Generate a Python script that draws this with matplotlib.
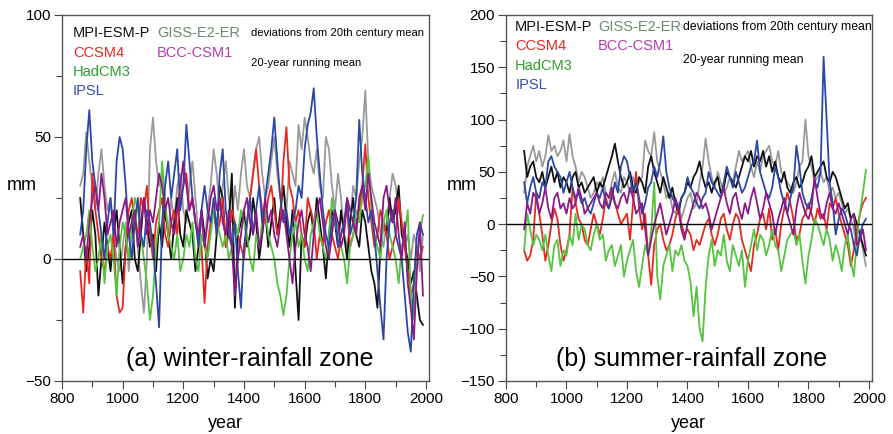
import numpy as np
import matplotlib
matplotlib.use("Agg")
import matplotlib.pyplot as plt
from matplotlib.ticker import MultipleLocator

plt.rcParams['font.family'] = ['Liberation Sans', 'DejaVu Sans']

years = list(range(860, 2000, 10))

# ---------- (a) winter-rainfall zone ----------
w_mpi = [25, 10, -5, 5,
         20, 10, -15, 0, 15, 5, -5, 10, 20, 5,
         -10, 5, 15, 20, 0, -5, 10, 25, 15, 5,
         10, -5, 15, 5, 20, 10, 0, 15, 25, 10,
         5, 20, 15, 10, -5, 5, 20, 10, -8, 0,
         -5, 10, 30, 25, 5, 15, 35, -20, 10, 15,
         20, 5, 10, 25, 15, 0, 10, 20, 5, 15,
         25, 10, 20, 30, 15, 5, 20, -5, -25, 10,
         5, 15, 20, 10, 25, 15, 5, -8, 10, 20,
         15, 5, 20, 10, 0, 15, 25, 10, 5, 20,
         15, 5, -5, -10, -20, 5, 15, 10, 25, 15,
         20, 30, 10, 5, 0, -10, -5, -15, -25, -27]
w_giss = [30, 35, 52, 40,
          30, 20, 35, 45, 30, 20, 25, 10, 0, -5,
          5, 15, -5, 10, 20, 5, -10, -22, 0, 45,
          58, 40, 30, 35, 20, 10, 25, 15, 30, 35,
          20, 15, 30, 40, 25, 10, 15, 5, 20, 30,
          45, 35, 20, 30, 40, 25, 15, 30, 20, 35,
          45, 30, 25, 35, 45, 50, 35, 25, 30, 40,
          50, 35, 25, 30, 20, 40, 35, 30, 55, 45,
          58, 50, 40, 35, 45, 30, 25, 50, 45, 30,
          20, 35, 25, 10, 5, 15, 30, 25, 40, 50,
          69, 40, 30, 25, 20, 10, 5, 15, 25, 35,
          30, 20, 15, 5, 10, 0, 10, 5, -5, 10]
w_ccsm = [-5, -22, 5, -10,
          35, 20, 10, 0, -5, 5, 0, 10, -15, -22,
          -20, 5, 20, 25, 15, 10, 25, 20, 30, 10,
          0, 15, 20, 25, 10, 5, 15, 20, 10, 25,
          30, 35, 20, 25, 15, 10, 5, -18, 5, 15,
          20, 10, 15, 25, 5, 10, 20, 15, 10, 5,
          0, 15, 25, 35, 45, 30, 20, 15, 25, 30,
          20, 10, 15, 40, 54, 30, 25, 15, 20, 10,
          5, 25, 20, 15, 0, 10, 5, 15, 20, 10,
          5, 0, 10, 15, 20, 5, 10, 15, 20, 30,
          47, 25, 15, 5, 10, 20, 15, 10, 0, 5,
          10, 25, 15, 5, -5, -15, -10, 5, 0, 5]
w_had = [0, 5, 10, 20,
         5, -5, 0, 10, -10, 5, 10, 0, -15, 5,
         15, 10, 0, 15, 25, 20, 10, 0, -10, -25,
         -15, 5, 15, 40, 25, 10, 5, 0, 10, -5,
         0, 10, 5, 15, 0, -5, 10, 5, 0, 10,
         20, 15, 10, 5, 10, 0, 5, 15, 10, 20,
         15, 10, 0, -5, 10, 5, 15, 20, 10, 5,
         0, -10, -15, -23, -15, 0, 10, 15, 5, 10,
         0, -5, 10, 15, 20, 10, 5, 0, 10, 25,
         15, 10, 5, 0, -10, 5, 10, 20, 15, 25,
         30, 42, 20, 10, 5, 0, 15, 20, 10, 5,
         0, -10, 5, 10, 20, -15, -25, 0, 10, 18]
w_ipsl = [10, 20, 45, 61,
          40, 30, 20, 10, 0, 15, 25, 10, 40, 50,
          45, 30, 10, 0, 15, 25, 10, 5, 20, 15,
          5, -10, -28, 15, 30, 40, 25, 35, 45, 20,
          30, 55, 40, 25, 15, 5, 20, 30, 20, 15,
          25, 10, 35, 45, 20, 10, 5, 15, -5, -20,
          5, 15, 25, 10, 20, 30, 15, 25, 35, 45,
          58, 40, 25, 15, 20, 10, 15, 20, 30, 25,
          45, 55, 60, 70, 50, 35, 20, 10, 5, 15,
          20, 5, 10, 15, 25, 10, 15, 25, 57, 35,
          25, 15, 20, 10, -5, -20, -33, 0, 15, 20,
          10, 5, 0, -15, -30, -38, -10, 10, 15, 10]
w_bcc = [5, 10, 0, 15,
         25, 30, 20, 35, 25, 10, 15, 20, 5, 15,
         20, 25, 10, 15, 20, 5, 15, 25, 10, 20,
         15, 25, 35, 30, 20, 25, 15, 10, 20, 30,
         40, 30, 20, 25, 15, 10, 20, 5, 15, 25,
         30, 20, 25, 15, 10, 20, 5, -15, 0, 10,
         20, 25, 15, 10, 20, 5, 10, 25, 15, 20,
         10, 5, 15, 20, 10, 0, -10, 5, 15, 20,
         10, 5, -5, 10, 20, 25, 15, 5, 0, 10,
         20, 15, 5, 10, 25, 20, 15, 10, 25, 30,
         20, 35, 25, 15, 10, 5, 25, 30, 20, 15,
         25, 10, 0, 15, -10, -20, -33, -5, 15, -15]

# ---------- (b) summer-rainfall zone ----------
s_mpi = [70, 45, 55, 60,
         45, 40, 50, 35, 45, 55, 40, 50, 35, 45,
         40, 30, 45, 50, 35, 40, 30, 35, 40, 45,
         30, 40, 35, 45, 55, 65, 77, 60, 45, 35,
         40, 50, 35, 30, 45, 40, 30, 55, 65, 50,
         40, 30, 45, 35, 25, 35, 20, 10, 25, 30,
         40, 35, 45, 50, 60, 45, 35, 40, 30, 40,
         45, 30, 35, 50, 45, 40, 35, 45, 55, 65,
         60, 70, 55, 65, 60, 70, 55, 65, 50, 60,
         45, 40, 50, 35, 30, 40, 45, 35, 40, 50,
         55, 65, 45, 50, 55, 60, 45, 40, 50, 45,
         35, 25, 15, 20, 5, 10, 0, -10, -20, -30]
s_giss = [30, 55, 65, 75,
          60, 70, 55, 65, 85, 70, 75, 65, 70, 80,
          60, 86, 65, 55, 40, 50, 45, 35, 25, 30,
          40, 35, 45, 30, 25, 40, 50, 35, 30, 45,
          40, 30, 45, 35, 40, 45, 80, 70, 65, 88,
          60, 50, 40, 25, 30, 15, 10, 20, 5, 15,
          25, 30, 15, 20, 40, 55, 82, 60, 45, 35,
          50, 40, 30, 35, 45, 40, 55, 70, 60, 65,
          70, 55, 45, 60, 50, 65, 70, 75, 60, 55,
          70, 50, 45, 40, 35, 30, 40, 55, 60, 100,
          65, 55, 40, 45, 50, 40, 45, 30, 35, 25,
          30, 20, 10, 15, 5, -5, -20, -10, -25, -40]
s_ccsm = [-25, -35, -30, -15,
          30, 10, -10, -35, -20, 0, 15, 5, -20, -35,
          -25, -10, 35, 20, 5, 0, -15, -20, -5, 10,
          0, -10, 5, 25, 15, 30, 20, 10, 0, 5,
          10, -15, 20, 50, 15, -5, 10, -30, -58, -20,
          -5, 0, -15, -25, -20, -10, 5, 15, 0, -10,
          -5, -10, -25, -15, -20, -10, 0, 5, -10, -20,
          -10, 5, 10, -5, -15, 0, 10, 5, -15, -25,
          -35, -45, -20, -10, 5, 10, -5, 15, -15, -5,
          -25, 0, 15, 30, 20, 5, -15, -10, 5, 10,
          20, 10, 0, 15, 5, 10, -5, 20, 15, 25,
          10, 0, -10, -20, -40, -25, -5, 10, 20, 25]
s_had = [-25, 10, -5, -20,
         -10, -15, -25, -10, -30, -45, -20, -15, -40, -25,
         -30, -10, -20, 10, -15, 0, -5, -20, -25, -10,
         0, -15, -10, -35, -25, -20, -40, -30, -20, -50,
         -35, -25, -15, -45, -60, -40, -20, -30, -5, 40,
         -50, -72, -40, -30, -20, -45, -25, -30, -20, -35,
         -40, -55, -88, -60, -100, -112, -60, -30, -15, -40,
         -25, -30, -10, -35, -45, -20, -30, -40, -25, -60,
         -35, -20, -5, -25, -10, -15, -30, -20, -5, -20,
         -25, -45, -30, -15, -10, -5, -20, -10, -35, -57,
         -30, -15, 5, 0, -10, -20, -5, -15, -35, -20,
         -30, -45, -20, -10, -35, -50, -15, 10, 30, 52]
s_ipsl = [40, 20, 35, 45,
          30, 25, 40, 35, 60, 65, 55, 50, 45, 30,
          40, 50, 35, 25, 30, 20, 25, 15, 10, 20,
          30, 25, 35, 20, 15, 25, 40, 30, 55, 65,
          60, 45, 30, 40, 25, 10, 20, 35, 40, 55,
          45, 60, 84, 50, 35, 25, 20, 15, 25, 30,
          45, 35, 30, 20, 15, 25, 30, 50, 40, 35,
          30, 25, 40, 55, 45, 35, 50, 40, 30, 35,
          45, 55, 60, 80, 50, 40, 30, 25, 35, 55,
          45, 30, 20, 10, 25, 35, 75, 55, 30, 20,
          15, 25, 40, 35, 50, 160, 100, 40, 20, -10,
          5, 15, 10, 0, -5, -20, -30, -10, 0, 5]
s_bcc = [-5, 20, 10, 30,
         25, 10, 20, 35, 15, 5, 25, 30, 15, 20,
         10, 25, 15, 20, 35, 25, 10, 15, 20, 25,
         30, 20, 15, 30, 25, 35, 20, 15, 25, 30,
         20, 35, 25, 10, 15, 20, -5, -30, -15, 0,
         10, 20, 5, -10, 0, 10, 25, 15, -5, -15,
         0, 10, 20, 30, 25, 15, 20, 10, -5, 5,
         15, 25, 35, 20, 10, 25, 30, 15, 5, 20,
         10, 25, 35, 20, 5, 15, 30, 20, 10, -10,
         5, 15, 25, 10, 0, -10, 15, 30, 20, 10,
         5, 15, 45, 25, 10, 5, 20, 30, 15, 10,
         20, 10, 0, -10, 5, 10, -20, -15, -5, -25]

models = ["MPI-ESM-P", "CCSM4", "HadCM3", "IPSL", "GISS-E2-ER", "BCC-CSM1"]
line_colors = {"MPI-ESM-P": "#111111", "CCSM4": "#e8281e", "HadCM3": "#55c43f",
               "IPSL": "#2b47a8", "GISS-E2-ER": "#9a9a9a", "BCC-CSM1": "#8a1a8a"}
label_colors = {"MPI-ESM-P": "#111111", "CCSM4": "#e8281e", "HadCM3": "#2ea02c",
                "IPSL": "#3050b0", "GISS-E2-ER": "#6a8a70", "BCC-CSM1": "#b43cae"}
draw_order = ["GISS-E2-ER", "MPI-ESM-P", "CCSM4", "HadCM3", "IPSL", "BCC-CSM1"]

winter = {"MPI-ESM-P": w_mpi, "CCSM4": w_ccsm, "HadCM3": w_had, "IPSL": w_ipsl,
          "GISS-E2-ER": w_giss, "BCC-CSM1": w_bcc}
summer = {"MPI-ESM-P": s_mpi, "CCSM4": s_ccsm, "HadCM3": s_had, "IPSL": s_ipsl,
          "GISS-E2-ER": s_giss, "BCC-CSM1": s_bcc}

fig = plt.figure(figsize=(8.93, 4.34), dpi=100)
ax1 = fig.add_axes([62/893, 53/434, 367/893, 366/434])
ax2 = fig.add_axes([506/893, 53/434, 366/893, 366/434])

def style(ax, ylim, major, minor):
    ax.set_xlim(800, 2010)
    ax.set_ylim(*ylim)
    ax.xaxis.set_major_locator(MultipleLocator(200))
    ax.xaxis.set_minor_locator(MultipleLocator(100))
    ax.yaxis.set_major_locator(MultipleLocator(major))
    ax.yaxis.set_minor_locator(MultipleLocator(minor))
    ax.tick_params(which='major', length=6, width=0.8, labelsize=11, color='#444444', pad=2)
    ax.tick_params(which='minor', length=4, width=0.8, color='#444444')
    for s in ax.spines.values():
        s.set_color('#555555')
        s.set_linewidth(1.0)
    ax.axhline(0, color='black', lw=1.0, zorder=10)

for ax, data in ((ax1, winter), (ax2, summer)):
    for m in draw_order:
        ax.plot(years, data[m], color=line_colors[m], lw=1.3)

style(ax1, (-50, 100), 50, 25)
style(ax2, (-150, 200), 50, 25)

# legend-like texts
def labels(ax, x1, x2, ys, xd, yd1, yd2, fs_small):
    for m, y in zip(["MPI-ESM-P", "CCSM4", "HadCM3", "IPSL"], ys):
        ax.text(x1, y, m, color=label_colors[m], fontsize=10.5, transform=ax.transAxes,
                va='center', ha='left')
    ax.text(x2, ys[0], "GISS-E2-ER", color=label_colors["GISS-E2-ER"], fontsize=10.5,
            transform=ax.transAxes, va='center', ha='left')
    ax.text(x2, ys[1], "BCC-CSM1", color=label_colors["BCC-CSM1"], fontsize=10.5,
            transform=ax.transAxes, va='center', ha='left')
    ax.text(xd, yd1, "deviations from 20th century mean", fontsize=fs_small,
            transform=ax.transAxes, va='center', ha='left')
    ax.text(xd, yd2, "20-year running mean", fontsize=fs_small,
            transform=ax.transAxes, va='center', ha='left')

labels(ax1, 0.030, 0.259, [0.951, 0.896, 0.844, 0.792], 0.515, 0.951, 0.869, 8.1)
labels(ax2, 0.025, 0.251, [0.967, 0.915, 0.861, 0.809], 0.484, 0.967, 0.877, 8.8)

ax1.text(0.174, 0.060, "(a) winter-rainfall zone", fontsize=18, transform=ax1.transAxes,
         va='center', ha='left')
ax2.text(0.137, 0.060, "(b) summer-rainfall zone", fontsize=18, transform=ax2.transAxes,
         va='center', ha='left')

fig.text(22/893, 1-185/434, "mm", fontsize=13, ha='center', va='center')
fig.text(462/893, 1-185/434, "mm", fontsize=13, ha='center', va='center')
fig.text(225/893, 1-423/434, "year", fontsize=13, ha='center', va='center')
fig.text(688/893, 1-423/434, "year", fontsize=13, ha='center', va='center')

fig.savefig("out.png", dpi=100)
